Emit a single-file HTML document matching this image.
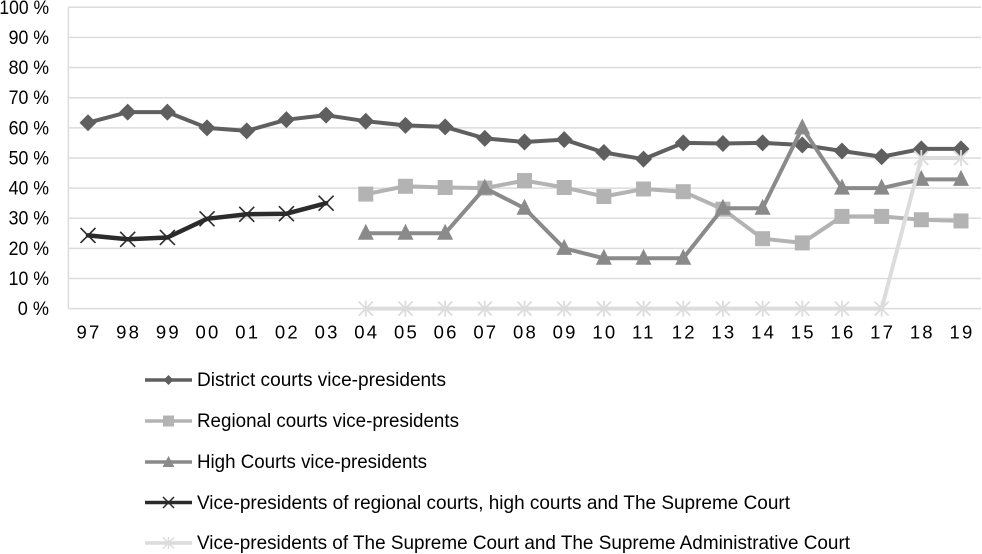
<!DOCTYPE html>
<html>
<head>
<meta charset="utf-8">
<style>
html,body{margin:0;padding:0;background:#fff;}
svg{display:block;font-family:"Liberation Sans",sans-serif;}
text{fill:#000;}
</style>
</head>
<body>
<svg id="chart" xmlns="http://www.w3.org/2000/svg" width="982" height="554" viewBox="0 0 982 554">
  <g id="grid"></g>
  <g id="yticks"></g>
  <g id="xticks"></g>
  <g id="series"></g>
  <g id="legend">
    <g>
      <line x1="145" x2="192" y1="380" y2="380" stroke="#5f5f5f" stroke-width="3.5"/>
      <path d="M168.500 375L173.500 380L168.500 385L163.500 380Z" fill="#5f5f5f"/>
      <text x="197" y="386" font-size="19.500" textLength="249" lengthAdjust="spacingAndGlyphs">District courts vice-presidents</text>
    </g>
    <g>
      <line x1="145" x2="192" y1="421" y2="421" stroke="#b3b3b3" stroke-width="3.500"/>
      <rect x="163" y="415.500" width="11" height="11" fill="#b3b3b3"/>
      <text x="197" y="427" font-size="19.500" textLength="262" lengthAdjust="spacingAndGlyphs">Regional courts vice-presidents</text>
    </g>
    <g>
      <line x1="145" x2="192" y1="462" y2="462" stroke="#8a8a8a" stroke-width="3.500"/>
      <path d="M168.500 456L174.500 467L162.500 467Z" fill="#8a8a8a"/>
      <text x="197" y="468" font-size="19.500" textLength="230" lengthAdjust="spacingAndGlyphs">High Courts vice-presidents</text>
    </g>
    <g>
      <line x1="145" x2="192" y1="502.500" y2="502.500" stroke="#2b2b2b" stroke-width="3.500"/>
      <path d="M163 497L174 508M174 497L163 508" stroke="#2b2b2b" stroke-width="1.500" fill="none"/>
      <text x="197" y="509" font-size="19.500" textLength="593" lengthAdjust="spacingAndGlyphs">Vice-presidents of regional courts, high courts and The Supreme Court</text>
    </g>
    <g>
      <line x1="145" x2="192" y1="543" y2="543" stroke="#dcdcdc" stroke-width="3.500"/>
      <path d="M163 537.500L174 548.500M174 537.500L163 548.500M168.500 537L168.500 549" stroke="#dcdcdc" stroke-width="1.500" fill="none"/>
      <text x="197" y="549" font-size="19.500" textLength="653" lengthAdjust="spacingAndGlyphs">Vice-presidents of The Supreme Court and The Supreme Administrative Court</text>
    </g>
  </g>
</svg>
<script>
const categories = ["97","98","99","00","01","02","03","04","05","06","07","08","09","10","11","12","13","14","15","16","17","18","19"];
const yTickValues = [0,10,20,30,40,50,60,70,80,90,100];
const districtValues = [61.7,65.2,65.2,60,59,62.7,64.2,62.2,60.8,60.3,56.5,55.3,56.1,51.8,49.6,55,54.8,55,54.3,52.3,50.4,53,53];
const regionalValues = [null,null,null,null,null,null,null,38,40.6,40.2,40,42.5,40.2,37.2,39.7,38.8,33,23.2,21.8,30.6,30.6,29.5,29.1];
const highValues = [null,null,null,null,null,null,null,25,25,25,40,33.3,20,16.7,16.7,16.7,33.3,33.3,60,40,40,42.9,42.9];
const combinedValues = [24.3,23,23.6,29.8,31.3,31.5,35,null,null,null,null,null,null,null,null,null,null,null,null,null,null,null,null];
const supremeValues = [null,null,null,null,null,null,null,0,0,0,0,0,0,0,0,0,0,0,0,0,0,50,50];

const NS = "http://www.w3.org/2000/svg";
const plotLeft = 68.4, plotRight = 981, plotTop = 7.3, plotBottom = 308.6;
const firstX = 88, stepX = (961 - 88) / 22;
function xScale(i){ return firstX + i * stepX; }
function yScale(v){ return plotBottom - (v / 100) * (plotBottom - plotTop); }
function make(tag, attrs, parent){
  const el = document.createElementNS(NS, tag);
  for (const k in attrs) el.setAttribute(k, attrs[k]);
  parent.appendChild(el);
  return el;
}

const gridG = document.getElementById("grid");
yTickValues.forEach(function(v){
  const line = make("line", {x1:plotLeft, x2:plotRight, y1:yScale(v), y2:yScale(v), stroke:"#dcdcdc", "stroke-width":1.5}, gridG);
  
  
});
const axisLine = make("line", {x1:plotLeft, x2:plotLeft, y1:plotTop, y2:plotBottom, stroke:"#dcdcdc", "stroke-width":1.5}, gridG);



const yG = document.getElementById("yticks");
yTickValues.forEach(function(v){
  const label = v + " %";
  const t = make("text", {x:49, y:yScale(v) + 6.5, "text-anchor":"end", "font-size":19.5, textLength:(label.length - 2) * 9.2 + 22, lengthAdjust:"spacingAndGlyphs"}, yG);
  t.textContent = label;
  
  
});

const xG = document.getElementById("xticks");
categories.forEach(function(c, i){
  const t = make("text", {x:xScale(i) - 11.5, y:338.5, "font-size":18.5, "letter-spacing":"2.2px"}, xG);
  t.textContent = c;
  
  
});

function drawMarker(kind, x, y, color, parent){
  let m;
  if (kind === "diamond") {
    m = make("path", {d:"M"+x+" "+(y-8.5)+"L"+(x+8.5)+" "+y+"L"+x+" "+(y+8.5)+"L"+(x-8.5)+" "+y+"Z", fill:color}, parent);
  } else if (kind === "square") {
    m = make("rect", {x:x-7.5, y:y-7.5, width:15, height:15, fill:color}, parent);
  } else if (kind === "triangle") {
    m = make("path", {d:"M"+x+" "+(y-9.5)+"L"+(x+8)+" "+(y+6.5)+"L"+(x-8)+" "+(y+6.5)+"Z", fill:color}, parent);
  } else if (kind === "x") {
    m = make("path", {d:"M"+(x-7.5)+" "+(y-7.5)+"L"+(x+7.5)+" "+(y+7.5)+"M"+(x+7.5)+" "+(y-7.5)+"L"+(x-7.5)+" "+(y+7.5), stroke:color, "stroke-width":1.6, fill:"none"}, parent);
  } else {
    m = make("path", {d:"M"+(x-7)+" "+(y-7)+"L"+(x+7)+" "+(y+7)+"M"+(x+7)+" "+(y-7)+"L"+(x-7)+" "+(y+7)+"M"+x+" "+(y-8)+"L"+x+" "+(y+8), stroke:color, "stroke-width":1.8, fill:"none"}, parent);
  }
  
  
}

function drawSeries(name, values, color, kind, width){
  const g = make("g", {}, document.getElementById("series"));
  
  
  const pts = [];
  values.forEach(function(v, i){ if (v !== null) pts.push(xScale(i) + "," + yScale(v)); });
  const line = make("polyline", {points:pts.join(" "), fill:"none", stroke:color, "stroke-width":width, "stroke-linejoin":"round", "stroke-linecap":"round"}, g);
  
  
  values.forEach(function(v, i){ if (v !== null) drawMarker(kind, xScale(i), yScale(v), color, g); });
}

drawSeries("series-district", districtValues, "#5f5f5f", "diamond", 4);
drawSeries("series-regional", regionalValues, "#b3b3b3", "square", 4);
drawSeries("series-high", highValues, "#8a8a8a", "triangle", 4);
drawSeries("series-combined", combinedValues, "#2b2b2b", "x", 4.5);
drawSeries("series-supreme", supremeValues, "#dcdcdc", "star", 4);
</script>
</body>
</html>
